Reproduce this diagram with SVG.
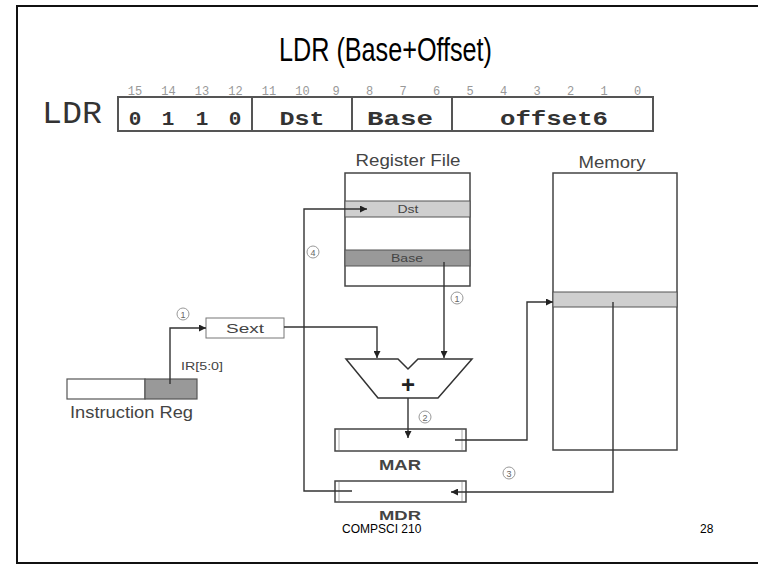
<svg xmlns="http://www.w3.org/2000/svg" width="758" height="565" viewBox="0 0 758 565">
  <defs>
    <marker id="arr" viewBox="0 0 10 10" refX="10" refY="5" markerWidth="8" markerHeight="7" markerUnits="userSpaceOnUse" orient="auto">
      <path d="M0,0 L10,5 L0,10 z" fill="#222"/>
    </marker>
  </defs>
  <style>
    .title { font-family: "Liberation Sans", Arial, sans-serif; font-size: 33px; fill: #000; }
    .mono { font-family: "Liberation Mono", "Courier New", monospace; fill: #333; }
    .bit { font-family: "Liberation Mono", monospace; font-size: 12px; fill: #999; text-anchor: middle; }
    .fld { font-family: "Liberation Mono", monospace; font-size: 21px; font-weight: bold; fill: #333; text-anchor: middle; }
    .lbl { font-family: "Liberation Sans", Arial, sans-serif; fill: #444; }
    .box { fill: #fff; stroke: #444; stroke-width: 1.5; }
    .wire { fill: none; stroke: #333; stroke-width: 1.4; }
    .num circle { fill: #fff; stroke: #999; stroke-width: 1; }
    .num text { font-family: "Liberation Sans", Arial, sans-serif; font-size: 9px; fill: #666; text-anchor: middle; }
    .foot { font-family: "Liberation Sans", Arial, sans-serif; font-size: 12px; fill: #000; }
  </style>

  <!-- slide frame -->
  <rect x="17" y="6" width="760" height="557" fill="#fff" stroke="#111" stroke-width="2"/>

  <text class="title" x="279" y="61" textLength="213" lengthAdjust="spacingAndGlyphs">LDR (Base+Offset)</text>

  <!-- instruction encoding -->
  <g id="encoding">
    <text class="mono" x="42" y="123" font-size="32" textLength="60" lengthAdjust="spacingAndGlyphs">LDR</text>
    <g>
      <text class="bit" x="135" y="95">15</text>
      <text class="bit" x="168.5" y="95">14</text>
      <text class="bit" x="202" y="95">13</text>
      <text class="bit" x="235.5" y="95">12</text>
      <text class="bit" x="269" y="95">11</text>
      <text class="bit" x="302.5" y="95">10</text>
      <text class="bit" x="336" y="95">9</text>
      <text class="bit" x="369.5" y="95">8</text>
      <text class="bit" x="403" y="95">7</text>
      <text class="bit" x="436.5" y="95">6</text>
      <text class="bit" x="470" y="95">5</text>
      <text class="bit" x="503.5" y="95">4</text>
      <text class="bit" x="537" y="95">3</text>
      <text class="bit" x="570.5" y="95">2</text>
      <text class="bit" x="604" y="95">1</text>
      <text class="bit" x="637.5" y="95">0</text>
    </g>
    <rect x="118" y="97" width="535" height="34" fill="#fff" stroke="#555" stroke-width="2"/>
    <line x1="252" y1="97" x2="252" y2="131" stroke="#555" stroke-width="2"/>
    <line x1="352" y1="97" x2="352" y2="131" stroke="#555" stroke-width="2"/>
    <line x1="452" y1="97" x2="452" y2="131" stroke="#555" stroke-width="2"/>
    <text class="fld" x="135" y="125">0</text>
    <text class="fld" x="168" y="125">1</text>
    <text class="fld" x="202" y="125">1</text>
    <text class="fld" x="235" y="125">0</text>
    <text class="fld" x="302" y="125" textLength="45" lengthAdjust="spacingAndGlyphs">Dst</text>
    <text class="fld" x="400" y="125" textLength="66" lengthAdjust="spacingAndGlyphs">Base</text>
    <text class="fld" x="554" y="125" textLength="108" lengthAdjust="spacingAndGlyphs">offset6</text>
  </g>

  <!-- register file -->
  <g id="register-file">
    <text class="lbl" x="408" y="166" font-size="16" text-anchor="middle" textLength="105" lengthAdjust="spacingAndGlyphs">Register File</text>
    <rect class="box" x="345" y="173" width="125" height="113" stroke="#555"/>
    <rect x="345" y="201" width="125" height="16" fill="#cfcfcf" stroke="#555" stroke-width="1"/>
    <rect x="345" y="250" width="125" height="16" fill="#999" stroke="#555" stroke-width="1"/>
    <text class="lbl" x="408" y="213" font-size="11" text-anchor="middle" textLength="21" lengthAdjust="spacingAndGlyphs">Dst</text>
    <text class="lbl" x="407" y="262" font-size="11" text-anchor="middle" textLength="32" lengthAdjust="spacingAndGlyphs">Base</text>
  </g>

  <!-- memory -->
  <g id="memory">
    <text class="lbl" x="612" y="168" font-size="16" text-anchor="middle" textLength="67" lengthAdjust="spacingAndGlyphs">Memory</text>
    <rect class="box" x="553" y="173" width="124" height="277" stroke="#555"/>
    <rect x="553" y="292" width="124" height="15" fill="#cfcfcf" stroke="#555" stroke-width="1"/>
  </g>

  <!-- instruction register -->
  <g id="instruction-reg">
    <rect x="67" y="379" width="78" height="20" fill="#fff" stroke="#555" stroke-width="1.2"/>
    <rect x="145" y="379" width="52" height="20" fill="#999" stroke="#555" stroke-width="1.2"/>
    <text class="lbl" x="181" y="370" font-size="11" textLength="42" lengthAdjust="spacingAndGlyphs">IR[5:0]</text>
    <text class="lbl" x="70" y="418" font-size="16" textLength="123" lengthAdjust="spacingAndGlyphs">Instruction Reg</text>
  </g>

  <!-- sign extension -->
  <g id="sext">
    <rect x="206" y="318" width="78" height="20" fill="#fff" stroke="#777" stroke-width="1"/>
    <text class="lbl" x="245" y="333" font-size="12" text-anchor="middle" textLength="38" lengthAdjust="spacingAndGlyphs">Sext</text>
  </g>

  <!-- adder -->
  <g id="alu">
    <path d="M346,359 H398 L408,369 L418,359 H472 L438,398 H378 Z" fill="#fff" stroke="#333" stroke-width="1.5"/>
    <text x="408" y="393" font-family="Liberation Sans, Arial, sans-serif" font-size="24" font-weight="bold" fill="#222" text-anchor="middle">+</text>
  </g>

  <!-- MAR -->
  <g id="mar">
    <rect class="box" x="335" y="429" width="131" height="22"/>
    <line x1="339" y1="430" x2="339" y2="450" stroke="#aaa" stroke-width="1"/>
    <line x1="462" y1="430" x2="462" y2="450" stroke="#aaa" stroke-width="1"/>
    <text class="lbl" x="400" y="470" font-size="14" font-weight="bold" text-anchor="middle" textLength="42" lengthAdjust="spacingAndGlyphs">MAR</text>
  </g>

  <!-- MDR -->
  <g id="mdr">
    <rect class="box" x="335" y="481" width="131" height="21"/>
    <line x1="339" y1="482" x2="339" y2="501" stroke="#aaa" stroke-width="1"/>
    <line x1="462" y1="482" x2="462" y2="501" stroke="#aaa" stroke-width="1"/>
    <text class="lbl" x="400" y="520" font-size="13" font-weight="bold" text-anchor="middle" textLength="42" lengthAdjust="spacingAndGlyphs">MDR</text>
  </g>

  <!-- connectors, drawn over the boxes they start in -->
  <g id="connectors">
    <!-- IR[5:0] to Sext -->
    <path class="wire" d="M170,384 V328 H206" marker-end="url(#arr)"/>
    <!-- Sext to ALU left input -->
    <path class="wire" d="M284,327 H377 V358" marker-end="url(#arr)"/>
    <!-- Base register to ALU right input -->
    <path class="wire" d="M444,262 V358" marker-end="url(#arr)"/>
    <!-- ALU to MAR -->
    <path class="wire" d="M408,398 V438" marker-end="url(#arr)"/>
    <!-- MAR to memory address -->
    <path class="wire" d="M455,440 H527 V302 H553" marker-end="url(#arr)"/>
    <!-- memory data to MDR -->
    <path class="wire" d="M613,302 V492 H451" marker-end="url(#arr)"/>
    <!-- MDR to Dst register -->
    <path class="wire" d="M352,491 H304 V209 H367" marker-end="url(#arr)"/>
  </g>

  <!-- step numbers -->
  <g class="num">
    <g id="step1a"><circle cx="183" cy="314" r="6"/><text x="183" y="317.5">1</text></g>
    <g id="step4"><circle cx="313" cy="252" r="6"/><text x="313" y="255.5">4</text></g>
    <g id="step1b"><circle cx="457" cy="298" r="6"/><text x="457" y="301.5">1</text></g>
    <g id="step2"><circle cx="425" cy="417" r="6"/><text x="425" y="420.5">2</text></g>
    <g id="step3"><circle cx="509" cy="473" r="6"/><text x="509" y="476.5">3</text></g>
  </g>

  <!-- footer -->
  <text class="foot" x="342" y="533">COMPSCI 210</text>
  <text class="foot" x="700" y="533">28</text>
</svg>
